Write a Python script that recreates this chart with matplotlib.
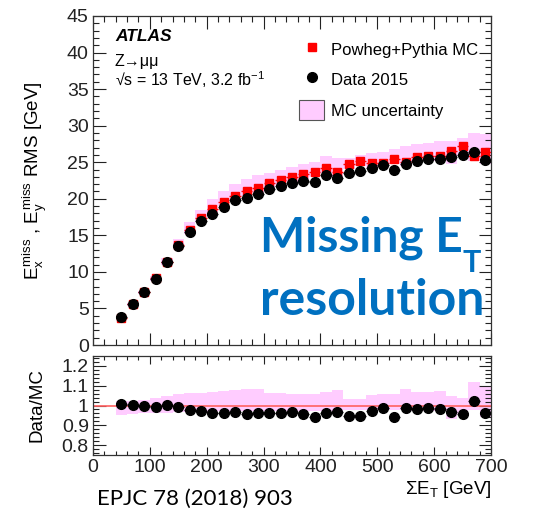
import matplotlib
matplotlib.use("Agg")
import matplotlib.pyplot as plt
from matplotlib.patches import Patch
from matplotlib.lines import Line2D
from matplotlib.ticker import MultipleLocator, FixedLocator
import numpy as np

plt.rcParams["font.family"] = ["Liberation Sans", "DejaVu Sans"]
plt.rcParams["mathtext.fontset"] = "custom"
plt.rcParams["mathtext.rm"] = "Liberation Sans"
plt.rcParams["mathtext.it"] = "Liberation Sans"
plt.rcParams["mathtext.bf"] = "Liberation Sans:bold"

# ---- data ----
bin_lo = list(range(40, 700, 20))          # 33 bins, 20 GeV wide
bin_centers = [b + 10 for b in bin_lo]

data_rms = [3.8, 5.6, 7.2, 9.0, 11.35, 13.6, 15.4, 16.9, 17.95, 18.9, 19.8,
            20.15, 20.7, 21.3, 21.7, 22.2, 22.4, 22.3, 23.3, 22.9, 23.5,
            23.8, 24.2, 24.6, 24.0, 24.7, 25.2, 25.5, 25.4, 25.7, 26.0,
            26.4, 25.35]

mc_rms = [3.75, 5.6, 7.2, 9.1, 11.33, 13.7, 15.75, 17.35, 18.65, 19.6, 20.4,
          21.0, 21.5, 22.1, 22.5, 23.0, 23.4, 23.6, 24.2, 23.7, 24.75,
          25.1, 24.85, 24.95, 25.4, 25.05, 25.7, 25.85, 25.9, 26.6, 27.2,
          25.85, 26.35]

ratio = [1.010, 1.002, 1.000, 0.990, 1.002, 0.993, 0.978, 0.974, 0.962,
         0.964, 0.969, 0.959, 0.962, 0.964, 0.964, 0.966, 0.957, 0.944,
         0.964, 0.966, 0.949, 0.949, 0.974, 0.985, 0.944, 0.986, 0.981,
         0.986, 0.981, 0.966, 0.956, 1.021, 0.962]

ratio_err = [0.006, 0.004, 0.004, 0.004, 0.004, 0.004, 0.004, 0.004, 0.004,
             0.004, 0.004, 0.004, 0.004, 0.004, 0.004, 0.004, 0.004, 0.004,
             0.005, 0.005, 0.005, 0.005, 0.005, 0.006, 0.006, 0.006, 0.007,
             0.008, 0.008, 0.010, 0.011, 0.018, 0.016]

# relative MC uncertainty band (upper / lower edge of MC/MC)
band_hi = [1.025, 1.025, 1.030, 1.040, 1.050, 1.060, 1.065, 1.065, 1.068,
           1.075, 1.078, 1.082, 1.082, 1.065, 1.065, 1.058, 1.058, 1.058,
           1.070, 1.078, 1.035, 1.035, 1.055, 1.058, 1.058, 1.085, 1.068,
           1.070, 1.075, 1.050, 1.040, 1.120, 1.095]
band_lo = [0.950, 0.955, 0.960, 0.960, 0.962, 0.965, 0.968, 0.968, 0.968,
           0.970, 0.970, 0.970, 0.970, 0.970, 0.970, 0.970, 0.970, 0.972,
           0.972, 0.972, 0.975, 0.975, 0.975, 0.975, 0.975, 0.975, 0.972,
           0.972, 0.970, 0.930, 0.955, 0.975, 0.940]

PINK = "#ffccff"
W, H = 536, 512

fig = plt.figure(figsize=(W / 100, H / 100), dpi=100)
ax = fig.add_axes([93 / W, 1 - 345 / H, 398 / W, 329 / H])
rax = fig.add_axes([93 / W, 1 - 455 / H, 398 / W, 99 / H], sharex=ax)

x = np.array(bin_centers)
mc = np.array(mc_rms)
edges = bin_lo + [bin_lo[-1] + 20]

# ---- main panel ----
ax.stairs(mc * np.array(band_hi), edges, baseline=mc * np.array(band_lo),
          fill=True, color=PINK, lw=0)
ax.errorbar(x, mc_rms, xerr=10, fmt="s", color="red", ms=6, elinewidth=1,
            capsize=0, zorder=3)
ax.errorbar(x, data_rms, xerr=10, fmt="o", color="black", ms=7,
            elinewidth=1, capsize=0, zorder=4)

ax.set_xlim(0, 700)
ax.set_ylim(0, 45)
ax.yaxis.set_major_locator(MultipleLocator(5))
ax.yaxis.set_minor_locator(MultipleLocator(1))
ax.xaxis.set_major_locator(MultipleLocator(100))
ax.xaxis.set_minor_locator(MultipleLocator(20))
ax.tick_params(axis="x", labelbottom=False)
ax.set_ylabel(r"$E_{x}^{miss}$ , $E_{y}^{miss}$ RMS [GeV]", fontsize=13.5)
ax.yaxis.set_label_coords(-0.11, 0.5)

ax.text(0.055, 0.925, "ATLAS", transform=ax.transAxes, fontsize=12.5,
        fontweight="bold", fontstyle="italic")
ax.text(0.055, 0.848, "Z\u2192\u03bc\u03bc", transform=ax.transAxes,
        fontsize=11.5)
ax.text(0.055, 0.788, "\u221as = 13 TeV, 3.2 fb$^{-1}$",
        transform=ax.transAxes, fontsize=11.5)

handles = [
    Line2D([], [], marker="s", color="red", ls="none", ms=6),
    Line2D([], [], marker="o", color="black", ls="none", ms=7),
    Patch(facecolor=PINK, edgecolor="#555555", lw=0.8),
]
ax.legend(handles, ["Powheg+Pythia MC", "Data 2015", "MC uncertainty"],
          loc="upper left", bbox_to_anchor=(0.48, 0.975), frameon=False,
          fontsize=12, handlelength=1.5, handleheight=1.5,
          labelspacing=0.6, handletextpad=0.4)

# ---- ratio panel ----
rax.stairs(band_hi, edges, baseline=band_lo, fill=True, color=PINK, lw=0)
rax.axhline(1.0, color="#ff6060", lw=1.2, zorder=2)
rax.errorbar(x, ratio, yerr=ratio_err, xerr=10, fmt="o", color="black",
             ms=7, elinewidth=1, capsize=0, zorder=4)
rax.set_ylim(0.75, 1.25)
rax.yaxis.set_major_locator(FixedLocator([0.8, 0.9, 1.0, 1.1, 1.2]))
rax.yaxis.set_minor_locator(MultipleLocator(0.02))
rax.set_yticklabels(["0.8", "0.9", "1", "1.1", "1.2"])
rax.set_ylabel("Data/MC", fontsize=13.5)
rax.yaxis.set_label_coords(-0.12, 0.5)
rax.set_xlabel(r"$\Sigma E_{T}$ [GeV]", fontsize=13.5, loc="right",
               labelpad=2)

for a in (ax, rax):
    a.tick_params(which="both", direction="in", top=True, right=True,
                  labelsize=14, colors="#222222", pad=3)
    a.tick_params(which="major", length=9, width=0.8)
    a.tick_params(which="minor", length=4.5, width=0.8)
    for s in a.spines.values():
        s.set_linewidth(0.9)
        s.set_color("#333333")
rax.tick_params(which="major", axis="x", length=6)
rax.tick_params(which="minor", axis="x", length=3)

# ---- overlay annotations ----
blue = "#0070c0"
t1 = fig.text(260 / W, 1 - 252 / H, "Missing E", fontsize=34.5,
              fontweight="bold", color=blue, family="Lato")
ax.annotate("T", xy=(1, 0), xycoords=t1, xytext=(0, -8),
            textcoords="offset points", fontsize=22, fontweight="bold",
            color=blue, family="Lato")
fig.text(260 / W, 1 - 315 / H, "resolution", fontsize=36,
         fontweight="bold", color=blue, family="Lato")
fig.text(97 / W, 1 - 505 / H, "EPJC 78 (2018) 903", fontsize=16,
         color="black", family="Lato")

fig.savefig("out.png", dpi=100)
